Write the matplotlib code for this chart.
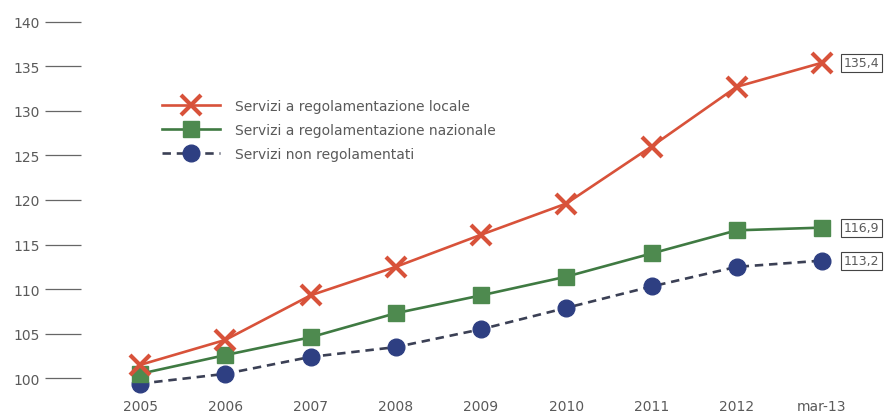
import matplotlib
matplotlib.use("Agg")
import matplotlib.pyplot as plt
import numpy as np

categories = ['2005', '2006', '2007', '2008', '2009', '2010', '2011', '2012', 'mar-13']
locale = [101.5, 104.3, 109.3, 112.5, 116.1, 119.6, 126.0, 132.7, 135.4]
nazionale = [100.5, 102.6, 104.6, 107.3, 109.3, 111.4, 114.0, 116.6, 116.9]
non_reg = [99.4, 100.5, 102.4, 103.5, 105.5, 107.9, 110.3, 112.5, 113.2]
series_names = ['Servizi a regolamentazione locale',
                'Servizi a regolamentazione nazionale',
                'Servizi non regolamentati']
end_labels = ['135,4', '116,9', '113,2']
yticks = [100, 105, 110, 115, 120, 125, 130, 135, 140]

W, H = 885, 414
dpi = 100
fig = plt.figure(figsize=(W / dpi, H / dpi), dpi=dpi)
fig.patch.set_facecolor('white')

# axes placement in pixels
left_px, right_px = 81, 885
y100_top, pxu = 379.3, 8.915
ylo, yhi = 97.5, 141.0
bottom_px = H - y100_top - (100 - ylo) * pxu
top_px = H - y100_top + (yhi - 100) * pxu
ax = fig.add_axes([left_px / W, bottom_px / H, (right_px - left_px) / W, (top_px - bottom_px) / H])
ax.set_ylim(ylo, yhi)
x0_px, xs = 140, 85.25
ax.set_xlim(-(x0_px - left_px) / xs, -(x0_px - left_px) / xs + (right_px - left_px) / xs)

for s in ax.spines.values():
    s.set_visible(False)

x = np.arange(len(categories))
red = '#d8523a'
green = '#4e8a4f'
green_line = '#3f7a42'
blue = '#2e3f82'
blue_line = '#3b4055'

ax.plot(x, locale, color=red, lw=1.9, marker='x', ms=14, mew=3.0, label=series_names[0], zorder=3)
ax.plot(x, nazionale, color=green_line, lw=1.9, marker='s', ms=12, mfc=green, mec=green, label=series_names[1], zorder=2)
ax.plot(x, non_reg, color=blue_line, lw=1.9, ls=(0, (3.2, 2.2)), marker='o', ms=12, mfc=blue, mec=blue,
        label=series_names[2], zorder=1)

text_col = '#5a5a5a'
ax.set_yticks(yticks)
ax.set_yticklabels([str(v) for v in yticks])
ax.tick_params(axis='y', direction='out', length=26, width=0.9, color='#666666', pad=3.6,
               labelsize=10, labelcolor=text_col)
ax.set_xticks(x)
ax.set_xticklabels(categories)
ax.tick_params(axis='x', length=0, pad=-1.5, labelsize=10, labelcolor=text_col)

for vals, lab in zip([locale, nazionale, non_reg], end_labels):
    ax.annotate(lab, xy=(x[-1], vals[-1]), xytext=(15.5, 0), textcoords='offset points',
                ha='left', va='center', fontsize=9, color=text_col,
                bbox=dict(boxstyle='square,pad=0.2', fc='white', ec='#444444', lw=0.8))

leg = ax.legend(loc='upper left', bbox_to_anchor=(162 / W, 1 - 100 / H), bbox_transform=fig.transFigure,
                frameon=False, fontsize=10, handlelength=4.2, handletextpad=1.05, labelspacing=0.72,
                borderpad=0, borderaxespad=0)
for t in leg.get_texts():
    t.set_color(text_col)

fig.savefig('out.png', dpi=dpi, facecolor='white')
